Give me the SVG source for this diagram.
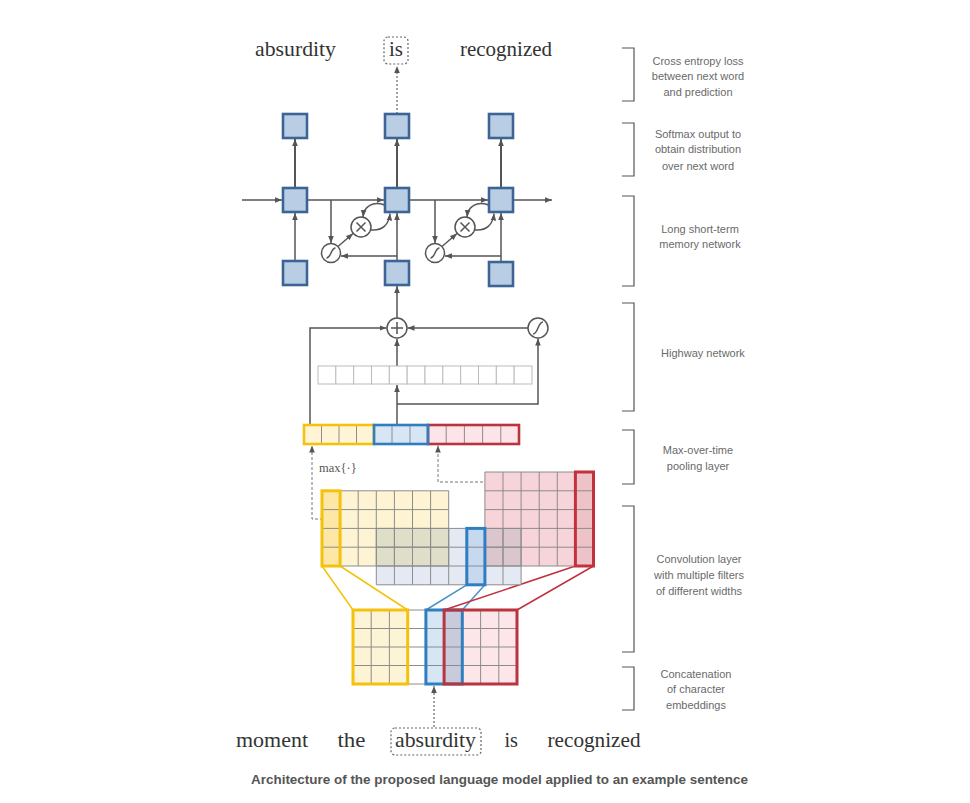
<svg xmlns="http://www.w3.org/2000/svg" width="970" height="803" viewBox="0 0 970 803">
<style>
.word{font-family:"Liberation Serif","DejaVu Serif",serif;font-size:21px;fill:#333}
.lbl{font-family:"Liberation Sans","DejaVu Sans",sans-serif;font-size:11px;fill:#6a6a6a;text-anchor:middle}
.cap{font-family:"Liberation Sans","DejaVu Sans",sans-serif;font-size:13.5px;font-weight:bold;fill:#555}
.sq{fill:#B9CDE5;stroke:#3C6495;stroke-width:2.6}
.ln{fill:none;stroke:#555;stroke-width:1.5}
.th{fill:none;stroke:#555;stroke-width:2}
.dot{fill:none;stroke:#666;stroke-width:1.2;stroke-dasharray:2,2}
.dash{fill:none;stroke:#777;stroke-width:1;stroke-dasharray:3,2}
.circ{fill:#fff;stroke:#555;stroke-width:1.5}
.grid{fill:none;stroke:#8c8c8c;stroke-width:1}
.hcell{fill:#fff;stroke:#bbb;stroke-width:1}
.br{fill:none;stroke:#555;stroke-width:1.2}
.box{fill:none;stroke:#666;stroke-width:1.2;stroke-dasharray:2,2}
</style>
<defs>
<marker id="ah" viewBox="0 0 10 10" refX="10" refY="5" markerWidth="7" markerHeight="7" orient="auto" markerUnits="userSpaceOnUse"><path d="M0,1 L10,5 L0,9 z" fill="#555"/></marker>
</defs>
<rect width="970" height="803" fill="#fff"/>

<g id="top-words">
<text class="word" x="255" y="56" textLength="81" lengthAdjust="spacingAndGlyphs">absurdity</text>
<rect class="box" x="384" y="37" width="24" height="27" rx="4"/>
<text class="word" x="389" y="56" textLength="14" lengthAdjust="spacingAndGlyphs">is</text>
<text class="word" x="460" y="56" textLength="92" lengthAdjust="spacingAndGlyphs">recognized</text>
</g>

<g id="connectors">
<!-- top output -->
<path class="dot" d="M397,114 V66" marker-end="url(#ah)"/>
<path class="th" d="M295,188 V139" marker-end="url(#ah)"/>
<path class="th" d="M397,188 V139" marker-end="url(#ah)"/>
<path class="th" d="M501,188 V139" marker-end="url(#ah)"/>
<!-- LSTM horizontal -->
<path class="ln" d="M242,200 H282" marker-end="url(#ah)"/>
<path class="ln" d="M307,200 H384" marker-end="url(#ah)"/>
<path class="ln" d="M409,200 H488" marker-end="url(#ah)"/>
<path class="ln" d="M513,200 H552" marker-end="url(#ah)"/>
<!-- input verticals -->
<path class="ln" d="M295,261 V213" marker-end="url(#ah)"/>
<path class="ln" d="M397,261 V213" marker-end="url(#ah)"/>
<path class="ln" d="M501,261 V213" marker-end="url(#ah)"/>
<!-- cell 1 gating -->
<path class="ln" d="M331,200 V243" marker-end="url(#ah)"/>
<path class="ln" d="M338,246.5 L353,233.5" marker-end="url(#ah)"/>
<path class="ln" d="M371,230 C382,231 389,225 390,213.5" marker-end="url(#ah)"/>
<path class="ln" d="M384.5,205 C373,201 364,206 363,217" marker-end="url(#ah)"/>
<path class="ln" d="M397,256 H341" marker-end="url(#ah)"/>
<!-- cell 2 gating -->
<path class="ln" d="M435,200 V243" marker-end="url(#ah)"/>
<path class="ln" d="M442,246.5 L457,233.5" marker-end="url(#ah)"/>
<path class="ln" d="M475,230 C486,231 493,225 494,213.5" marker-end="url(#ah)"/>
<path class="ln" d="M488.5,205 C477,201 468,206 467,217" marker-end="url(#ah)"/>
<path class="ln" d="M501,256 H445" marker-end="url(#ah)"/>
<!-- highway -->
<path class="ln" d="M397,318 V286" marker-end="url(#ah)"/>
<path class="ln" d="M397,366 V339" marker-end="url(#ah)"/>
<path class="ln" d="M528,328 H407.5" marker-end="url(#ah)"/>
<path class="ln" d="M310,425 V328 H386.5" marker-end="url(#ah)"/>
<path class="ln" d="M397,425 V385" marker-end="url(#ah)"/>
<path class="ln" d="M397,404 H538 V338.5" marker-end="url(#ah)"/>
<!-- max pooling -->
<path class="dash" d="M448,519 H312 V445.5" marker-end="url(#ah)"/>
<path class="dash" d="M593,482 H438 V445.5" marker-end="url(#ah)"/>
<!-- conv to concat -->
<path fill="none" stroke="#F4C20D" stroke-width="1.5" d="M322,566 L353,610 M340.1,566 L407.7,610"/>
<path fill="none" stroke="#4A90C8" stroke-width="1.5" d="M466.8,584.8 L425.9,610 M484.9,584.8 L462.3,610"/>
<path fill="none" stroke="#C2323E" stroke-width="1.5" d="M575.4,566 L444.1,610 M593.5,566 L517,610"/>
<!-- input word -->
<path class="dot" d="M434,727 V686" marker-end="url(#ah)"/>
</g>

<g id="output-squares">
<rect class="sq" x="283" y="114" width="24" height="24"/>
<rect class="sq" x="385" y="114" width="24" height="24"/>
<rect class="sq" x="489" y="114" width="24" height="24"/>
</g>
<g id="lstm-squares">
<rect class="sq" x="283" y="188" width="24" height="24"/>
<rect class="sq" x="385" y="188" width="24" height="24"/>
<rect class="sq" x="489" y="188" width="24" height="24"/>
</g>
<g id="input-squares">
<rect class="sq" x="283" y="261" width="24" height="24"/>
<rect class="sq" x="385" y="261" width="24" height="24"/>
<rect class="sq" x="489" y="262" width="24" height="24"/>
</g>

<g id="lstm-gates">
<circle class="circ" cx="331" cy="253" r="9.5"/>
<path class="ln" stroke-width="1.2" d="M326.5,258 C331,258 331,248 335.5,248"/>
<circle class="circ" cx="361" cy="227" r="10"/>
<path class="ln" stroke-width="1.2" d="M356.5,222.5 L365.5,231.5 M365.5,222.5 L356.5,231.5"/>
<circle class="circ" cx="435" cy="253" r="9.5"/>
<path class="ln" stroke-width="1.2" d="M430.5,258 C435,258 435,248 439.5,248"/>
<circle class="circ" cx="465" cy="227" r="10"/>
<path class="ln" stroke-width="1.2" d="M460.5,222.5 L469.5,231.5 M469.5,222.5 L460.5,231.5"/>
</g>

<g id="highway">
<circle class="circ" cx="397" cy="328" r="10"/>
<path class="ln" stroke-width="1.2" d="M391,328 H403 M397,322 V334"/>
<circle class="circ" cx="538" cy="328" r="10"/>
<path class="ln" stroke-width="1.2" d="M533,334 C538,334 538,322 543,322"/>
<g id="highway-cells">
<rect class="hcell" x="318" y="366" width="17.83" height="18"/>
<rect class="hcell" x="335.83" y="366" width="17.83" height="18"/>
<rect class="hcell" x="353.67" y="366" width="17.83" height="18"/>
<rect class="hcell" x="371.5" y="366" width="17.83" height="18"/>
<rect class="hcell" x="389.33" y="366" width="17.83" height="18"/>
<rect class="hcell" x="407.17" y="366" width="17.83" height="18"/>
<rect class="hcell" x="425" y="366" width="17.83" height="18"/>
<rect class="hcell" x="442.83" y="366" width="17.83" height="18"/>
<rect class="hcell" x="460.67" y="366" width="17.83" height="18"/>
<rect class="hcell" x="478.5" y="366" width="17.83" height="18"/>
<rect class="hcell" x="496.33" y="366" width="17.83" height="18"/>
<rect class="hcell" x="514.17" y="366" width="17.83" height="18"/>
</g>
</g>

<g id="pooling">
<rect x="304" y="425" width="70" height="19" fill="#FFF5D6"/>
<rect x="374" y="425" width="54" height="19" fill="#D6E6F5"/>
<rect x="428" y="425" width="91" height="19" fill="#FCE4E8"/>
<path class="grid" d="M321.5,425V444 M339,425V444 M356.5,425V444 M392,425V444 M410,425V444 M446.2,425V444 M464.4,425V444 M482.6,425V444 M500.8,425V444"/>
<rect x="304" y="425" width="70" height="19" fill="none" stroke="#F4C20D" stroke-width="2.6"/>
<rect x="428" y="425" width="91" height="19" fill="none" stroke="#B8343F" stroke-width="2.6"/>
<rect x="374" y="425" width="54" height="19" fill="none" stroke="#2F7EC0" stroke-width="2.6"/>
<text x="319" y="472" font-family="Liberation Serif,DejaVu Serif,serif" font-size="12.5" fill="#555">max{·}</text>
</g>

<g id="convolution">
<rect x="322" y="490.8" width="126.7" height="75.2" fill="#FEF4D4"/>
<rect x="376.3" y="528.4" width="144.8" height="56.4" fill="#E4E9F4"/>
<rect x="484.9" y="472" width="108.6" height="94" fill="#F7D4D9"/>
<rect x="376.3" y="528.4" width="72.4" height="37.6" fill="#DFDFC9"/>
<rect x="484.9" y="528.4" width="36.2" height="37.6" fill="#DCC6CD"/>
<rect x="322" y="490.8" width="18.1" height="75.2" fill="#FDE7A6"/>
<rect x="466.8" y="528.4" width="18.1" height="56.4" fill="#C6D9EE"/>
<rect x="575.4" y="472" width="18.1" height="94" fill="#EEC3C7"/>
<path class="grid" d="M322,490.8V566 M340.1,490.8V566 M358.2,490.8V566 M376.3,490.8V566 M394.4,490.8V566 M412.5,490.8V566 M430.6,490.8V566 M448.7,490.8V566 M322,490.8H448.7 M322,509.6H448.7 M322,528.4H448.7 M322,547.2H448.7 M322,566H448.7"/>
<path class="grid" d="M376.3,528.4V584.8 M394.4,528.4V584.8 M412.5,528.4V584.8 M430.6,528.4V584.8 M448.7,528.4V584.8 M466.8,528.4V584.8 M484.9,528.4V584.8 M503,528.4V584.8 M521.1,528.4V584.8 M376.3,528.4H521.1 M376.3,547.2H521.1 M376.3,566H521.1 M376.3,584.8H521.1"/>
<path class="grid" d="M484.9,472V566 M503,472V566 M521.1,472V566 M539.2,472V566 M557.3,472V566 M575.4,472V566 M593.5,472V566 M484.9,472H593.5 M484.9,490.8H593.5 M484.9,509.6H593.5 M484.9,528.4H593.5 M484.9,547.2H593.5 M484.9,566H593.5"/>
<rect x="322" y="490.8" width="18.1" height="75.2" fill="none" stroke="#F4C20D" stroke-width="3"/>
<rect x="466.8" y="528.4" width="18.1" height="56.4" fill="none" stroke="#2F7EC0" stroke-width="3"/>
<rect x="575.4" y="472" width="18.1" height="94" fill="none" stroke="#C2323E" stroke-width="3"/>
</g>

<g id="concatenation">
<rect x="353" y="610" width="54.7" height="74" fill="#FDF3D5"/>
<rect x="425.9" y="610" width="18.2" height="74" fill="#D6E6F5"/>
<rect x="444.1" y="610" width="18.2" height="74" fill="#C9CBDC"/>
<rect x="462.3" y="610" width="54.7" height="74" fill="#FCE6E9"/>
<path class="grid" d="M371.2,610V684 M389.4,610V684 M407.7,610V684 M425.9,610V684 M444.1,610V684 M462.3,610V684 M480.6,610V684 M498.8,610V684 M353,610H517 M353,628.5H517 M353,647H517 M353,665.5H517 M353,684H517"/>
<rect x="353" y="610" width="54.7" height="74" fill="none" stroke="#F4C20D" stroke-width="3"/>
<rect x="425.9" y="610" width="36.4" height="74" fill="none" stroke="#2F7EC0" stroke-width="3"/>
<rect x="444.1" y="610" width="72.9" height="74" fill="none" stroke="#B8343F" stroke-width="3"/>
</g>

<g id="bottom-words">
<text class="word" x="236" y="747" textLength="72" lengthAdjust="spacingAndGlyphs">moment</text>
<text class="word" x="337.5" y="747" textLength="28" lengthAdjust="spacingAndGlyphs">the</text>
<rect class="box" x="391" y="728" width="90" height="27" rx="4"/>
<text class="word" x="395" y="747" textLength="81" lengthAdjust="spacingAndGlyphs">absurdity</text>
<text class="word" x="504.5" y="747" textLength="13.5" lengthAdjust="spacingAndGlyphs">is</text>
<text class="word" x="547.5" y="747" textLength="93" lengthAdjust="spacingAndGlyphs">recognized</text>
</g>

<g id="brackets">
<path class="br" d="M622,48 H634 V101 H622"/>
<path class="br" d="M622,123 H634 V176 H622"/>
<path class="br" d="M622,196 H634 V286 H622"/>
<path class="br" d="M622,303 H634 V411 H622"/>
<path class="br" d="M622,430 H634 V484 H622"/>
<path class="br" d="M622,506 H634 V652 H622"/>
<path class="br" d="M622,667 H634 V710 H622"/>
</g>

<g id="labels">
<text class="lbl" x="698" y="65">Cross entropy loss</text>
<text class="lbl" x="698" y="80">between next word</text>
<text class="lbl" x="698" y="96">and prediction</text>
<text class="lbl" x="698" y="138">Softmax output to</text>
<text class="lbl" x="698" y="153">obtain distribution</text>
<text class="lbl" x="698" y="170">over next word</text>
<text class="lbl" x="700" y="233">Long short-term</text>
<text class="lbl" x="700" y="248">memory network</text>
<text class="lbl" x="703" y="357">Highway network</text>
<text class="lbl" x="698" y="454">Max-over-time</text>
<text class="lbl" x="698" y="470">pooling layer</text>
<text class="lbl" x="699" y="563">Convolution layer</text>
<text class="lbl" x="699" y="579">with multiple filters</text>
<text class="lbl" x="699" y="595">of different widths</text>
<text class="lbl" x="696" y="678">Concatenation</text>
<text class="lbl" x="696" y="693">of character</text>
<text class="lbl" x="696" y="709">embeddings</text>
</g>

<g id="caption">
<text class="cap" x="251" y="784" textLength="497" lengthAdjust="spacingAndGlyphs">Architecture of the proposed language model applied to an example sentence</text>
</g>
</svg>
